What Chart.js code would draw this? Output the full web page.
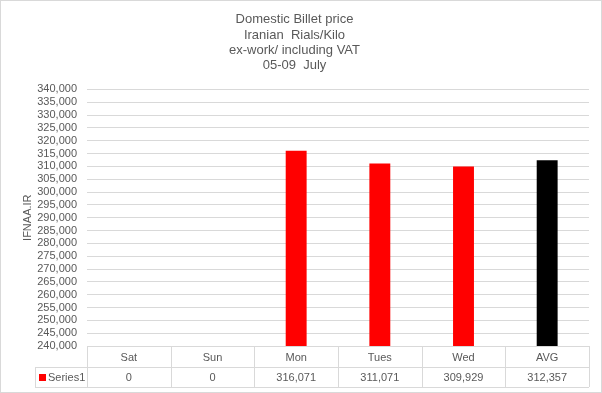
<!DOCTYPE html>
<html>
<head>
<meta charset="utf-8">
<script src="https://cdn.jsdelivr.net/npm/chart.js@4"></script>
<style>
  html, body { margin: 0; padding: 0; background: #fff; }
  #wrap { width: 602px; height: 393px; }
</style>
</head>
<body>
<div id="wrap"><canvas id="c" width="602" height="393"></canvas></div>
<script>
/* ── Data ─────────────────────────────────────────── */
const categories = ['Sat', 'Sun', 'Mon', 'Tues', 'Wed', 'AVG'];
const seriesName = 'Series1';
const seriesValues = [0, 0, 316071, 311071, 309929, 312357];
const barColors = ['#ff0000', '#ff0000', '#ff0000', '#ff0000', '#ff0000', '#000000'];
const titleLines = ['Domestic Billet price', 'Iranian  Rials/Kilo', 'ex-work/ including VAT', '05-09  July'];
const yMin = 240000;
const yMax = 340000;
const yStep = 5000;

const FONT = '"Liberation Sans", Arial, sans-serif';
const TEXT = '#595959';
const GRID = '#d9d9d9';

const fmt = v => v.toLocaleString('en-US');

/* ── Data table under the plot (Excel style) ──────── */
const dataTable = {
    id: 'dataTable',
    afterDraw(chart) {
        const { ctx, chartArea } = chart;
        const x = chart.scales.x;
        const n = categories.length;
        const left = chartArea.left, right = chartArea.right;
        const cw = (right - left) / n;
        const top = chartArea.bottom;
        const mid = top + 21;
        const bot = mid + 20;
        const legLeft = 35;

        ctx.save();
        ctx.strokeStyle = GRID;
        ctx.lineWidth = 1;
        ctx.beginPath();
        // horizontal lines
        ctx.moveTo(left, top + 0.5); ctx.lineTo(right, top + 0.5);
        ctx.moveTo(legLeft, mid + 0.5); ctx.lineTo(right, mid + 0.5);
        ctx.moveTo(legLeft, bot + 0.5); ctx.lineTo(right, bot + 0.5);
        // verticals
        ctx.moveTo(legLeft + 0.5, mid); ctx.lineTo(legLeft + 0.5, bot);
        for (let i = 0; i <= n; i++) {
            const px = Math.round(left + i * cw) + 0.5;
            ctx.moveTo(px, top); ctx.lineTo(px, bot);
        }
        ctx.stroke();

        ctx.fillStyle = TEXT;
        ctx.font = '11px ' + FONT;
        ctx.textAlign = 'center';
        ctx.textBaseline = 'middle';
        categories.forEach((c, i) => {
            const cx = x.getPixelForValue(i);
            ctx.fillText(c, cx, (top + mid) / 2 + 1);
            ctx.fillText(fmt(seriesValues[i]), cx, (mid + bot) / 2 + 1);
        });

        // legend key
        ctx.fillStyle = '#ff0000';
        ctx.fillRect(legLeft + 4, (mid + bot) / 2 - 3, 7, 7);
        ctx.fillStyle = TEXT;
        ctx.textAlign = 'left';
        ctx.fillText(seriesName, legLeft + 13, (mid + bot) / 2 + 1);

        // outer frame
        ctx.strokeStyle = GRID;
        ctx.strokeRect(0.5, 0.5, chart.width - 1, chart.height - 1);
        ctx.restore();
    }
};

new Chart(document.getElementById('c'), {
    type: 'bar',
    data: {
        labels: categories,
        datasets: [{
            label: seriesName,
            data: seriesValues,
            backgroundColor: barColors,
            borderWidth: 0,
            barPercentage: 0.5,
            categoryPercentage: 0.5,
        }],
    },
    options: {
        responsive: false,
        animation: false,
        devicePixelRatio: 1,
        layout: { padding: { left: 0, right: 13, top: 0, bottom: 47 } },
        plugins: {
            legend: { display: false },
            tooltip: { enabled: false },
            title: {
                display: true,
                text: titleLines,
                color: TEXT,
                font: { size: 13, family: FONT, weight: 'normal', lineHeight: 1.18 },
                padding: { top: 12, bottom: 16 },
            },
        },
        scales: {
            x: { display: false },
            y: {
                min: yMin,
                max: yMax,
                afterFit(s) { s.width = 87; },
                ticks: {
                    stepSize: yStep,
                    autoSkip: false,
                    color: TEXT,
                    font: { size: 11, family: FONT },
                    padding: 10,
                    callback: v => fmt(v),
                },
                grid: { color: GRID, drawTicks: false },
                border: { display: false },
                title: {
                    display: true,
                    text: 'IFNAA.IR',
                    color: TEXT,
                    font: { size: 11, family: FONT },
                    padding: { top: 21, bottom: 0 },
                },
            },
        },
    },
    plugins: [dataTable],
});
</script>
</body>
</html>
